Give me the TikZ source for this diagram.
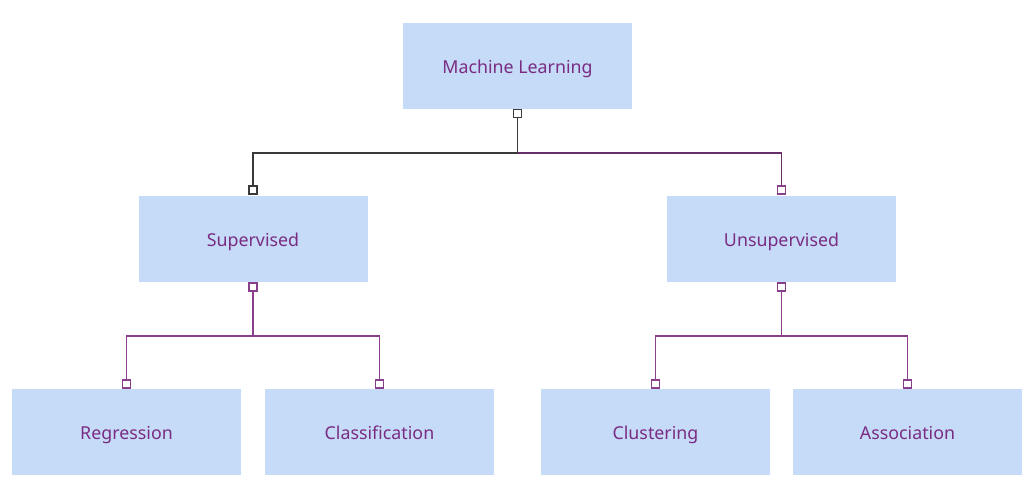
\documentclass[tikz,border=0pt]{standalone}
\usepackage{fontspec}
\setmainfont{Noto Sans}
\usepackage{tikz}
\definecolor{boxblue}{HTML}{C6DBF8}
\definecolor{txtpurple}{HTML}{7A2C82}
\definecolor{linkpurple}{HTML}{8A3F8D}
\definecolor{linkdark}{HTML}{3A3A3A}
\tikzset{
  topic/.style={fill=boxblue,minimum width=229pt,minimum height=86pt,inner sep=0pt,text=txtpurple,
    font=\fontsize{17.8}{21}\selectfont,text height=\dimexpr0.714em+8pt\relax,text depth=0pt},
  port/.style={draw,fill=white,minimum size=8pt,inner sep=0pt,line width=1.4pt},
  link/.style={line width=1.6pt},
}
\begin{document}
\begin{tikzpicture}[x=1pt,y=-1pt]
  \useasboundingbox[fill=white] (0,0) rectangle (1029,484);
  \node[topic] (ml) at (517.5,66) {Machine Learning};
  \node[topic] (sup) at (253,239) {Supervised};
  \node[topic] (uns) at (781.5,239) {Unsupervised};
  \node[topic] (reg) at (126.5,432) {Regression};
  \node[topic] (cls) at (379.5,432) {Classification};
  \node[topic] (clu) at (655.5,432) {Clustering};
  \node[topic] (ass) at (907.5,432) {Association};
  % ports
  \node[port,draw=linkdark] (mlb) at (517.5,113.5) {};
  \node[port,draw=linkdark] (supt) at (253,190) {};
  \node[port,draw=linkpurple] (unst) at (781.5,190) {};
  \node[port,draw=linkpurple] (supb) at (253,287) {};
  \node[port,draw=linkpurple] (unsb) at (781.5,287) {};
  \node[port,draw=linkpurple] (regt) at (126.5,384) {};
  \node[port,draw=linkpurple] (clst) at (379.5,384) {};
  \node[port,draw=linkpurple] (clut) at (655.5,384) {};
  \node[port,draw=linkpurple] (asst) at (907.5,384) {};
  % connectors
  \draw[link,linkdark] (mlb.south) -- ++(0,35) -| (supt.north);
  \draw[link,linkpurple!75!black] (mlb.south) ++(0,35) -| (unst.north);
  \draw[link,linkpurple] (supb.south) -- ++(0,44.5) -| (regt.north);
  \draw[link,linkpurple] (supb.south) ++(0,44.5) -| (clst.north);
  \draw[link,linkpurple] (unsb.south) -- ++(0,44.5) -| (clut.north);
  \draw[link,linkpurple] (unsb.south) ++(0,44.5) -| (asst.north);
\end{tikzpicture}
\end{document}
